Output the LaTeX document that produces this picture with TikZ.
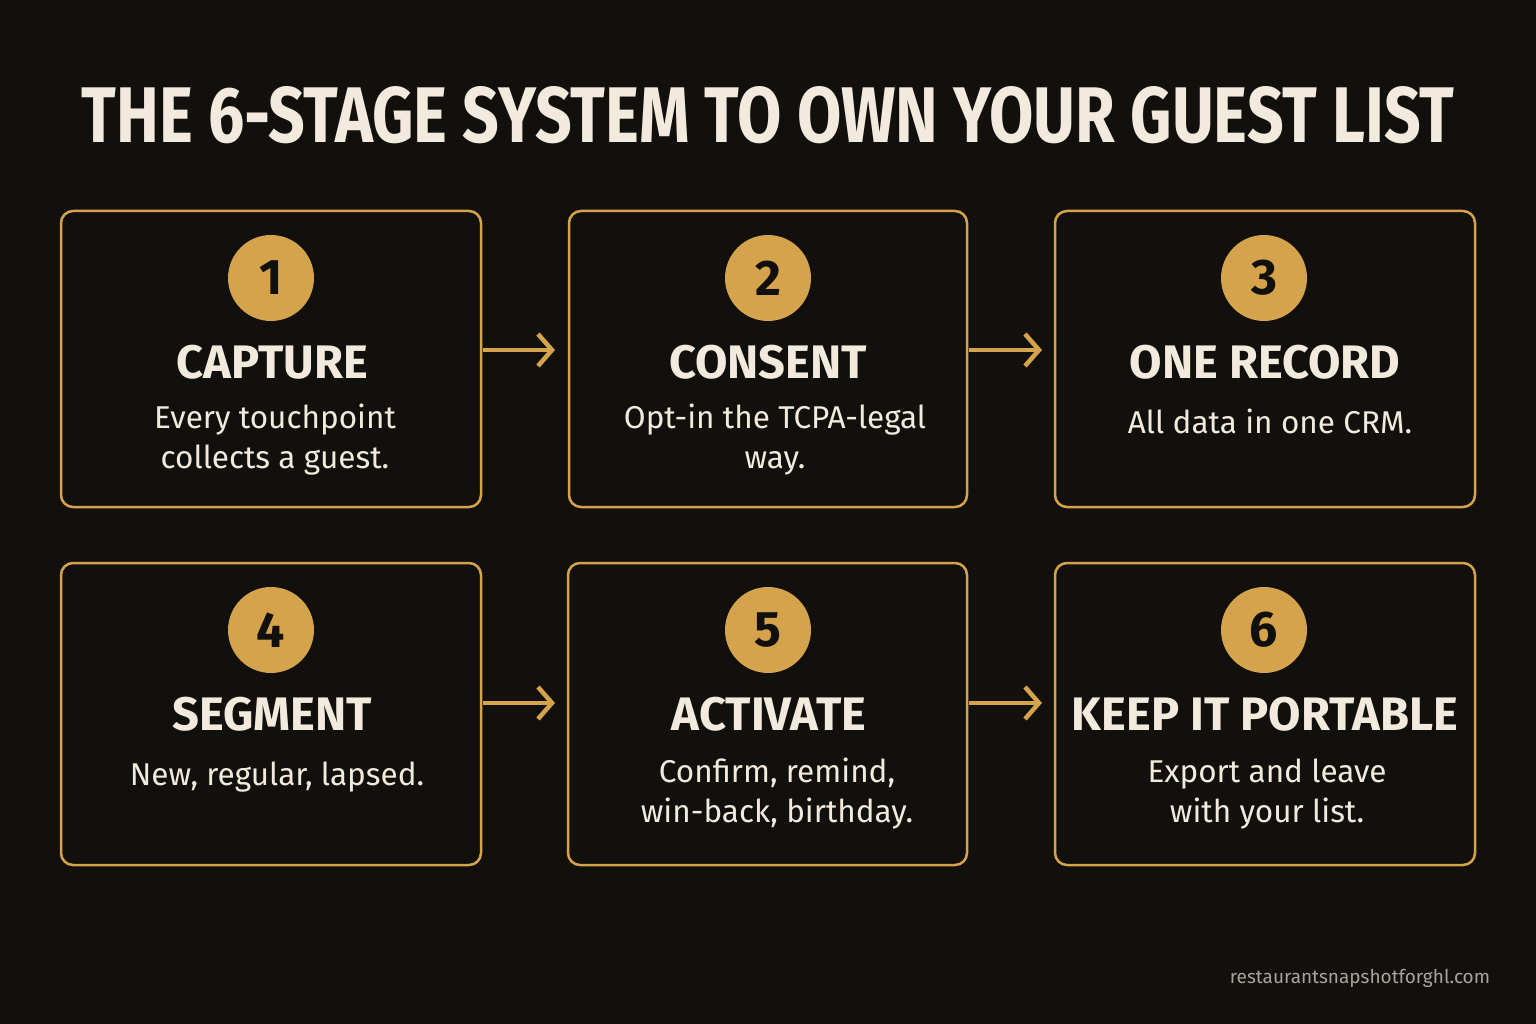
\documentclass[tikz,border=0pt]{standalone}
\usepackage{fontspec}
\setmainfont{Fira Sans}
\usetikzlibrary{arrows.meta}
\definecolor{bg}{HTML}{12100D}
\definecolor{gold}{HTML}{D4A34C}
\definecolor{cream}{HTML}{F2EBDD}
\definecolor{foot}{HTML}{A8A49C}
\begin{document}
\begin{tikzpicture}[x=1pt,y=-1pt,
  box/.style={draw=gold,line width=2.5pt,rounded corners=12pt},
  num/.style={circle,fill=gold,minimum size=86pt,inner sep=0pt,text=bg,font=\fontsize{50}{50}\selectfont\bfseries},
  head/.style={text=cream,font=\fontsize{47}{47}\selectfont\bfseries},
  desc/.style={text=cream,align=center,font=\fontsize{31.5}{40}\selectfont},
  arr/.style={draw=gold,line width=4.5pt,-{Straight Barb[length=14pt,width=32pt,line width=4.5pt]}}]
\fill[bg] (0,0) rectangle (1536,1024);
\useasboundingbox (0,0) rectangle (1536,1024);
\node[text=cream,inner sep=0pt] (title) at (768,115) {\resizebox{1372pt}{56pt}{\bfseries THE 6-STAGE SYSTEM TO OWN YOUR GUEST LIST}};
% boxes
\draw[box] (61,211) rectangle (481,507);
\draw[box] (569,211) rectangle (967,507);
\draw[box] (1055,211) rectangle (1475,507);
\draw[box] (61,563) rectangle (481,865);
\draw[box] (568,563) rectangle (967,865);
\draw[box] (1055,563) rectangle (1475,865);
\coordinate (a1s) at (483,350); \coordinate (a1e) at (555,350);
\coordinate (a2s) at (969,350); \coordinate (a2e) at (1042,350);
\coordinate (a3s) at (483,703); \coordinate (a3e) at (555,703);
\coordinate (a4s) at (969,703); \coordinate (a4e) at (1042,703);
\draw[arr] (a1s) -- (a1e);
\draw[arr] (a2s) -- (a2e);
\draw[arr] (a3s) -- (a3e);
\draw[arr] (a4s) -- (a4e);
\node[num] (n1) at (271,278) {1};
\node[head] (h1) at (272,362) {CAPTURE};
\node[desc] (d1) at (275,440) {Every touchpoint\\collects a guest.};
\node[num] (n2) at (768,278) {2};
\node[head] (h2) at (768,362) {CONSENT};
\node[desc] (d2) at (775,440) {Opt-in the TCPA-legal\\way.};
\node[num] (n3) at (1264,278) {3};
\node[head] (h3) at (1265,362) {ONE RECORD};
\node[desc] (d3) at (1270,421) {All data in one CRM.};
\node[num] (n4) at (271,630) {4};
\node[head] (h4) at (272,714) {SEGMENT};
\node[desc] (d4) at (277,777) {New, regular, lapsed.};
\node[num] (n5) at (768,630) {5};
\node[head] (h5) at (769,714) {ACTIVATE};
\node[desc] (d5) at (777,794) {Confirm, remind,\\win-back, birthday.};
\node[num] (n6) at (1264,630) {6};
\node[head] (h6) at (1265,714) {KEEP IT PORTABLE};
\node[desc] (d6) at (1267,794) {Export and leave\\with your list.};
\node[text=foot,font=\fontsize{19}{19}\selectfont] (ft) at (1360,978) {restaurantsnapshotforghl.com};
\end{tikzpicture}
\end{document}
